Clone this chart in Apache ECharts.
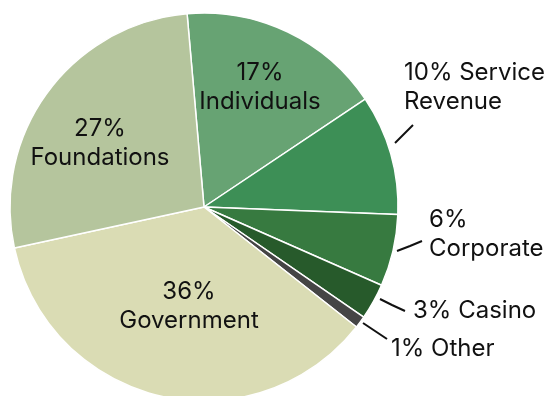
<!DOCTYPE html>
<html><head><meta charset="utf-8">
<script src="https://cdn.jsdelivr.net/npm/echarts@6/dist/echarts.min.js"></script>
<style>html,body{margin:0;padding:0;background:#fff}#c{width:550px;height:396px}</style>
</head><body><div id="c"></div>
<script>
const categories = ['Individuals','Service Revenue','Corporate','Casino','Other','Government','Foundations'];
const values = [17,10,6,3,1,36,27];
const labelTexts = ['17%\nIndividuals','10% Service\nRevenue','6%\nCorporate','3% Casino','1% Other','36%\nGovernment','27%\nFoundations'];

const colors = ['#67a373','#3d8f56','#377a40','#275a2b','#454545','#dadcb4','#b5c59d'];
const inside = [true,false,false,false,false,true,true];
// label anchor & leader line layout
const layout = [
  {x:260,y:87,align:'center'},
  {x:404,y:87,align:'left',line:[[395,143],[404,134],[413,125]]},
  {x:429,y:234,align:'left',line:[[397,251],[410,246],[422,241]]},
  {x:413,y:311,align:'left',line:[[380,299],[392,305],[405,311]]},
  {x:391,y:349,align:'left',line:[[363,323],[375,331],[387,339]]},
  {x:189,y:306,align:'center'},
  {x:100,y:143,align:'center'}
];

const chart = echarts.init(document.getElementById('c'));
chart.setOption({
  animation:false,
  series:[{
    type:'pie',
    center:[204,207],
    radius:[0,194],
    startAngle:95,
    clockwise:true,
    avoidLabelOverlap:false,
    itemStyle:{borderColor:'#fff',borderWidth:1.5},
    label:{
      fontFamily:'Inter',fontSize:24,color:'#111',lineHeight:29,
      formatter:p=>labelTexts[p.dataIndex]
    },
    labelLine:{show:true,length:5,length2:5,lineStyle:{color:'#111',width:2}},
    labelLayout:function(p){
      const L = layout[p.dataIndex];
      const o = {x:L.x,y:L.y,align:L.align,verticalAlign:'middle'};
      if(L.line) o.labelLinePoints = L.line;
      return o;
    },
    data: categories.map((c,i)=>({
      name:c,value:values[i],
      itemStyle:{color:colors[i]},
      label:{position: inside[i]?'inside':'outside', align: layout[i].align},
      labelLine:{show:!inside[i]}
    }))
  }]
});
</script></body></html>
